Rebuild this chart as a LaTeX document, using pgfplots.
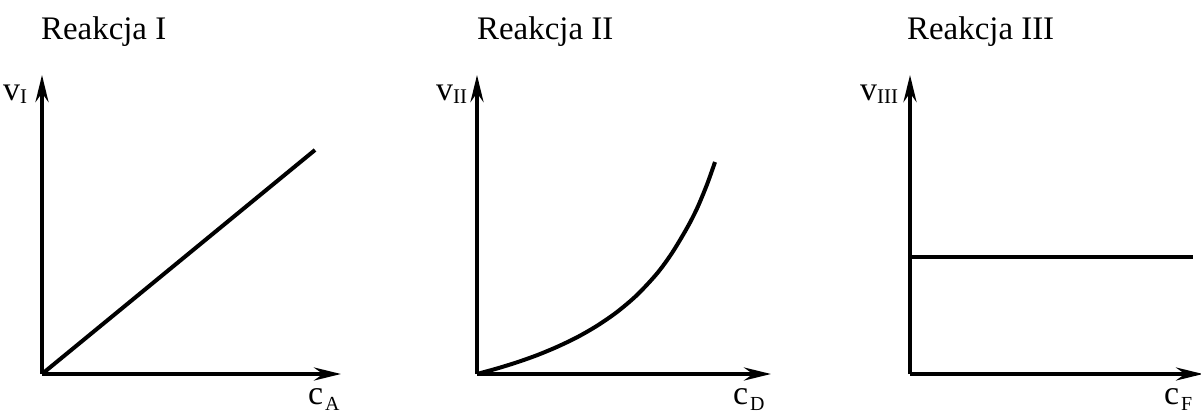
\documentclass[border=0pt]{standalone}
\usepackage{pgfplots}
\pgfplotsset{compat=1.18}
\usepackage{fontspec}
\setmainfont{Liberation Serif}
\usetikzlibrary{arrows.meta}

\pgfplotsset{
  panel/.style={
    scale only axis,
    axis lines=left,
    ticks=none,
    clip=false,
    xmin=0, ymin=0, ymax=299,
    height=299bp,
    anchor=south west,
    axis line style={line width=4bp, black, -{Stealth[length=27bp,width=13bp,inset=9bp]}},
  },
  curve/.style={line width=4bp, black, no marks},
}
\newcommand{\ttl}[1]{{\fontsize{33}{40}\selectfont #1}}
\newcommand{\vlab}[1]{{\fontsize{34}{34}\selectfont v\raisebox{-3bp}{\fontsize{21}{21}\selectfont #1}}}
\newcommand{\clab}[1]{{\fontsize{34}{34}\selectfont c\kern2bp\raisebox{-6bp}{\fontsize{20}{20}\selectfont #1}}}

\begin{document}
\begin{tikzpicture}[x=1bp,y=1bp]
\useasboundingbox (0,0) rectangle (1201,414);

% Panel I
\begin{axis}[panel, at={(42bp,40bp)}, xmax=299, width=299bp]
\addplot[curve] coordinates {(0,0) (273,224)};
\end{axis}

% Panel II
\begin{axis}[panel, at={(477bp,40bp)}, xmax=294, width=294bp]
\addplot[curve, smooth] coordinates {
(0,0) (20,5.5) (40,11.7) (60,18.8) (80,27.1) (100,36.7) (120,48.2) (140,62.0)
(160,79) (180,100.5) (195,121) (210,146) (220,165.5) (230,189.5) (238,212)};
\end{axis}

% Panel III
\begin{axis}[panel, at={(910bp,40bp)}, xmax=293, width=293bp]
\addplot[curve] coordinates {(0,117) (283,117)};
\end{axis}

% titles
\node[anchor=base west, inner sep=0] at (41,375) {\ttl{Reakcja I}};
\node[anchor=base west, inner sep=0] at (477,375) {\ttl{Reakcja II}};
\node[anchor=base west, inner sep=0] at (907,375) {\ttl{Reakcja III}};

% y labels
\node[anchor=base west, inner sep=0] at (3,314) {\vlab{I}};
\node[anchor=base west, inner sep=0] at (436,314) {\vlab{II}};
\node[anchor=base west, inner sep=0] at (860,314) {\vlab{III}};

% x labels
\node[anchor=base west, inner sep=0] at (308,10) {\clab{A}};
\node[anchor=base west, inner sep=0] at (733,10) {\clab{D}};
\node[anchor=base west, inner sep=0] at (1164,10) {\clab{F}};
\end{tikzpicture}
\end{document}
